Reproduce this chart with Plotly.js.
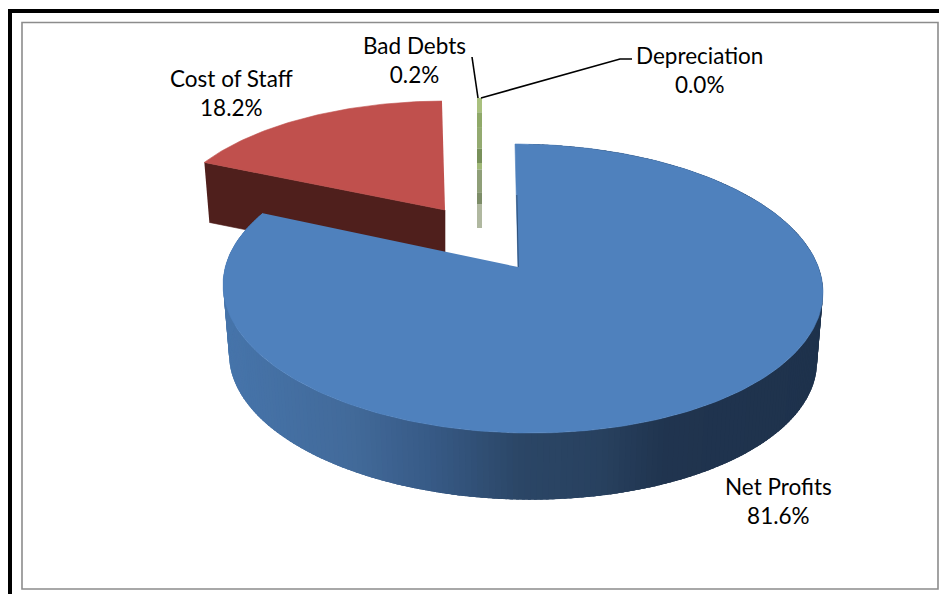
<!DOCTYPE html>
<html>
<head>
<meta charset="utf-8">
<script src="https://cdn.plot.ly/plotly-3.0.1.min.js"></script>
<style>html,body{margin:0;padding:0;background:#fff;overflow:hidden}</style>
</head>
<body>
<div id="chart" style="width:939px;height:594px"></div>
<script>
// Data
const categories = ['Net Profits', 'Cost of Staff', 'Bad Debts', 'Depreciation'];
const percents = [81.6, 18.2, 0.2, 0.0];

// Colours
const topColors = ['#4f81bd', '#c0504d', '#9bbb59'];
const wallRed = '#4f1f1c';
const sideStops = [[225,[70,116,170]],[350,[66,106,154]],[430,[55,90,134]],[520,[43,70,102]],[600,[40,65,95]],[665,[32,52,79]],[830,[30,50,76]]];
const greenBands = [[0,'#a9c07e'],[0.11,'#8fa968'],[0.23,'#93aa70'],[0.39,'#78905a'],[0.5,'#a0b878'],[0.55,'#8f9f78'],[0.73,'#7d8d68'],[0.82,'#b0b8a0']];

// 3-D view of the pie: a tilted disc seen in perspective
const K = 0.149, A = 296.5, B = 141.3, DEPTH = 67;
const RIM = {cx: 523, cy: 288, shear: 8 / 144};
const RAD = Math.PI / 180;

const starts = [];
percents.reduce((acc, p, i) => { starts[i] = acc; return acc + p * 3.6; }, 0);

function blueRim(deg) {
  const u = Math.sin(deg * RAD), v = Math.cos(deg * RAD), w = 1 + K * v;
  const yOff = 267 - B * v / w;
  return [RIM.cx + A * u / w + RIM.shear * (yOff - RIM.cy), yOff];
}
function lowerRim(p) {
  return [RIM.cx + (p[0] - RIM.cx) * 0.98, RIM.cy + (p[1] - RIM.cy) * 0.98 + DEPTH + 2.5];
}
function redRim(deg) {
  const u = Math.sin(deg * RAD), v = Math.cos(deg * RAD), w = 1 + K * v;
  return [445 + 0.94 * A * u / w, 210 - 0.886 * B * v / w];
}
function poly(pts, color, lw) {
  return {
    type: 'scatter', mode: 'lines', x: pts.map(p => p[0]), y: pts.map(p => p[1]),
    fill: 'toself', fillcolor: color,
    line: {color: color, width: lw === undefined ? 0.6 : lw},
    hoverinfo: 'skip', showlegend: false
  };
}
function line(pts, color, lw) {
  return {
    type: 'scatter', mode: 'lines', x: pts.map(p => p[0]), y: pts.map(p => p[1]),
    line: {color: color, width: lw}, hoverinfo: 'skip', showlegend: false
  };
}
function sideColor(x) {
  for (let i = 1; i < sideStops.length; i++) {
    if (x <= sideStops[i][0]) {
      const a = sideStops[i - 1], b = sideStops[i];
      const t = Math.max(0, (x - a[0]) / (b[0] - a[0]));
      const c = a[1].map((v, j) => Math.round(v + (b[1][j] - v) * t));
      return 'rgb(' + c.join(',') + ')';
    }
  }
  const l = sideStops[sideStops.length - 1][1];
  return 'rgb(' + l.join(',') + ')';
}

const traces = [];

// Cost of Staff: wall then top face
const redFrom = starts[1], redTo = starts[1] + percents[1] * 3.6;
const redCorner = redRim(redFrom);
traces.push(poly([redCorner, [445, 210], [445, 270], [redCorner[0] + 5, redCorner[1] + 60]], wallRed));
const redTop = [[445, 210]];
for (let d = redFrom; d <= redTo; d += 1) redTop.push(redRim(d));
redTop.push(redRim(redTo));
traces.push(poly(redTop, topColors[1]));

// Bad Debts: thin sliver, face and wall
greenBands.forEach((b, i) => {
  const y0 = 98 + b[0] * 130;
  const y1 = 98 + (i + 1 < greenBands.length ? greenBands[i + 1][0] : 1) * 130;
  traces.push(poly([[477, y0], [482, y0], [482, y1], [477, y1]], b[1], 0));
});

// Net Profits: side strips (each overlaps the next so no seams show), then top face
const blueTo = starts[0] + percents[0] * 3.6;
for (let d = 3; d < blueTo; d += 1) {
  const e = Math.min(d + 2.5, blueTo);
  const a = blueRim(d), b = blueRim(e);
  const mid = blueRim(d + 0.5);
  traces.push(poly([a, blueRim(d + 1), b, lowerRim(b), lowerRim(blueRim(d + 1)), lowerRim(a)], sideColor(mid[0]), 0));
}
const blueTop = [[518, 267]];
for (let d = 0; d <= blueTo; d += 1) blueTop.push(blueRim(d));
blueTop.push(blueRim(blueTo));
traces.push(poly(blueTop, topColors[0]));
traces.push(line([[516.8, 195], [518.3, 267]], '#2f5077', 1));

// Leader lines
traces.push(line([[472, 57], [478, 98]], '#000', 1.6));
traces.push(line([[481, 98], [620, 59], [632, 59]], '#000', 1.6));

const labelPos = [[778, 501], [231, 93], [414, 60], [699, 70]];
const annotations = categories.map((c, i) => ({
  x: labelPos[i][0], y: labelPos[i][1], xref: 'x', yref: 'y',
  text: c + '<br>' + percents[i].toFixed(1) + '%',
  showarrow: false, xanchor: 'center', yanchor: 'middle', align: 'center',
  font: {family: 'Lato, "Open Sans", sans-serif', size: 22.5, color: '#000'}
}));

const shapes = [
  {type: 'rect', x0: 8, x1: 12, y0: 9, y1: 594, fillcolor: '#000', line: {width: 0}, layer: 'below'},
  {type: 'rect', x0: 8, x1: 939, y0: 9, y1: 13, fillcolor: '#000', line: {width: 0}, layer: 'below'},
  {type: 'rect', x0: 22, x1: 938, y0: 22.5, y1: 589, fillcolor: '#fff', line: {color: '#8c8c8c', width: 1.6}, layer: 'below'}
];

const layout = {
  width: 939, height: 594,
  margin: {l: 0, r: 0, t: 0, b: 0},
  paper_bgcolor: '#fff', plot_bgcolor: '#fff',
  xaxis: {range: [0, 939], visible: false, fixedrange: true},
  yaxis: {range: [594, 0], visible: false, fixedrange: true},
  showlegend: false, hovermode: false,
  shapes: shapes, annotations: annotations
};
Plotly.newPlot('chart', traces, layout, {displayModeBar: false, staticPlot: true});
</script>
</body>
</html>
